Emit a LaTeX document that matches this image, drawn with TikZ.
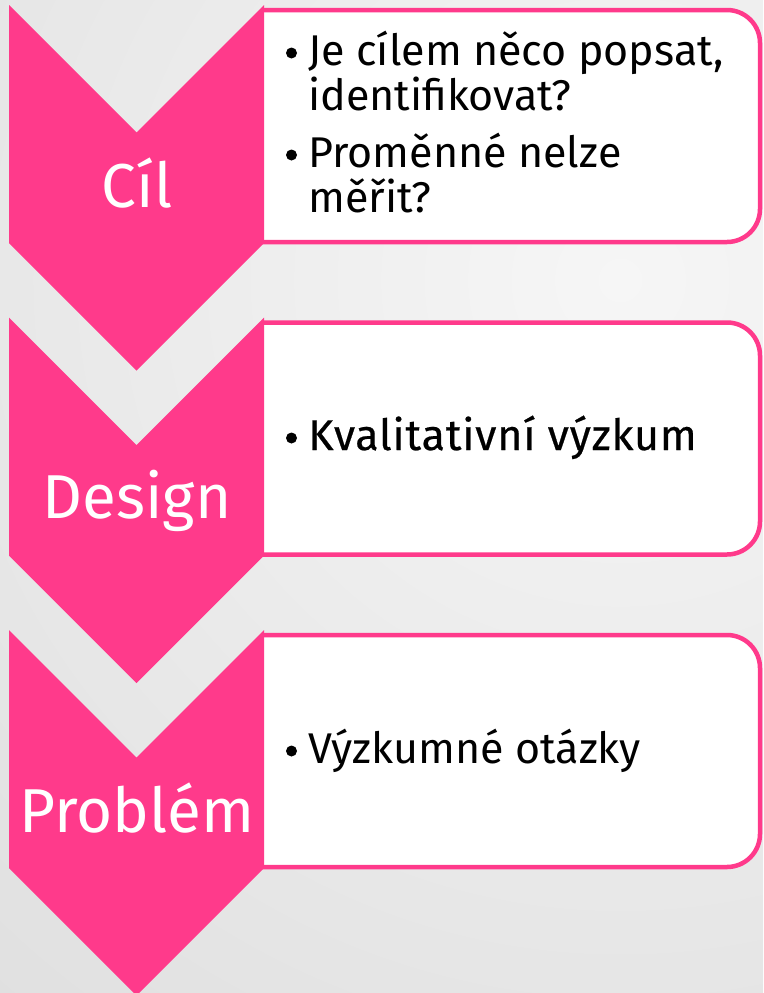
\documentclass[tikz,border=0pt]{standalone}
\usepackage{fontspec}
\setmainfont{Fira Sans}
\newfontfamily\medfont{Fira Sans}[FakeBold=0.5,LetterSpace=2]
\definecolor{pinkc}{HTML}{FF3A8B}
\definecolor{bgin}{HTML}{F6F6F6}
\definecolor{bgout}{HTML}{C8C8C8}
\tikzset{
  chev/.style={fill=pinkc},
  itembox/.style={draw=pinkc, line width=4.5pt, fill=white, rounded corners=33pt},
  lbl/.style={text=white, font=\fontsize{62}{62}\selectfont, anchor=base, inner sep=0pt},
  item/.style={text=black, font=\fontsize{43}{45}\selectfont, anchor=base west, inner sep=0pt},
  bul/.style={circle, fill=black, minimum size=11pt, inner sep=0pt}
}
\newcommand{\chevron}[1]{%
  \fill[chev] (9,#1) -- (136.5,#1+127.5) -- (264,#1) -- (264,#1+238) -- (136.5,#1+365.5) -- (9,#1+238) -- cycle;}
\newcommand{\itemrect}[1]{%
  \begin{scope}
    \clip (262,#1-10) rectangle (770,#1+250);
    \draw[itembox] (200,#1+5) rectangle (760,#1+237);
  \end{scope}}
\begin{document}
\begin{tikzpicture}[x=1pt,y=-1pt]
\useasboundingbox (0,0) rectangle (763,993);
\begin{scope}
  \clip (0,0) rectangle (763,993);
  \shade[inner color=bgin, outer color=bgout] (620,280) circle (2000);
\end{scope}
% boxes
\itemrect{5}
\itemrect{317.5}
\itemrect{630}
% chevrons
\chevron{5}
\chevron{317.5}
\chevron{630}
% labels
\node[lbl] (l1) at (137,207) {Cíl};
\node[lbl] (l2) at (137,518) {Design};
\node[lbl] (l3) at (137,832) {Problém};
% box 1
\node[bul] (b1) at (291.5,53) {};
\node[item] (t1a) at (308,65) {Je cílem něco popsat,};
\node[item] (t1b) at (308,110) {identifikovat?};
\node[bul] (b2) at (291.5,155) {};
\node[item] (t1c) at (308,167) {Proměnné nelze};
\node[item] (t1d) at (308,212) {měřit?};
% box 2
\node[bul] (b3) at (291.5,438) {};
\node[item, font=\fontsize{43}{45}\medfont] (t2) at (308,450) {Kvalitativní výzkum};
% box 3
\node[bul] (b4) at (291.5,751) {};
\node[item] (t3) at (308,763) {Výzkumné otázky};
\end{tikzpicture}
\end{document}
